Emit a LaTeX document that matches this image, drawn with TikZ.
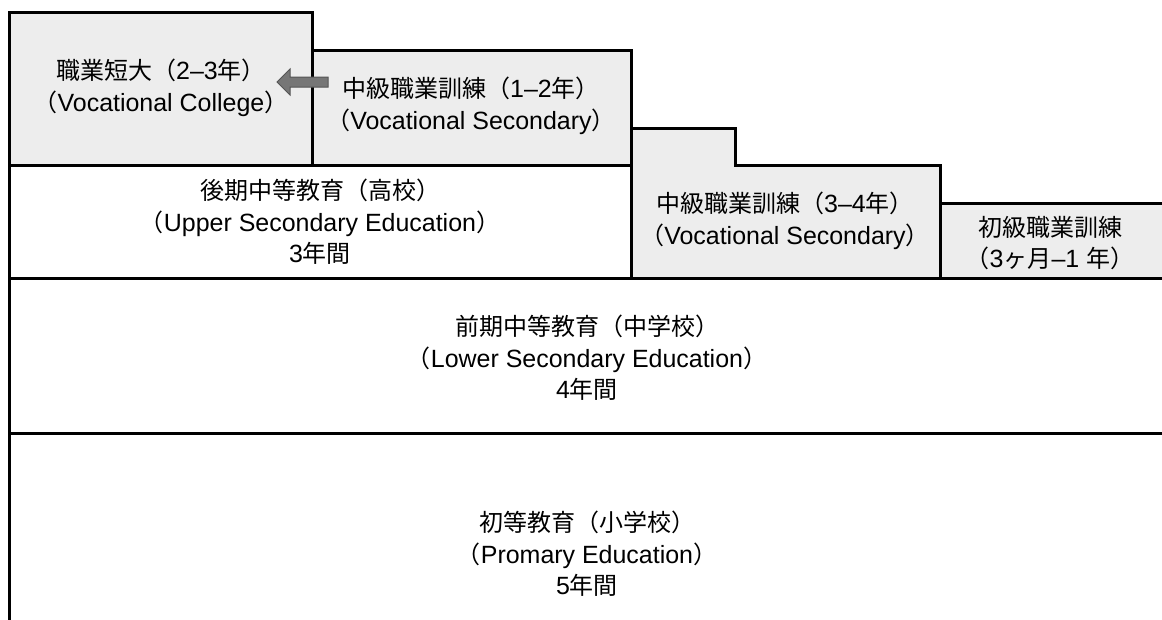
\documentclass[tikz,border=0pt]{standalone}
\usepackage{fontspec}
\setmainfont{Noto Sans CJK JP}
\newfontfamily\latfont[Scale=1.04]{Liberation Sans}
\newcommand\Lat[1]{{\latfont #1}}
\definecolor{boxgray}{RGB}{237,237,237}
\definecolor{arrowfill}{RGB}{118,118,118}
\definecolor{arrowline}{RGB}{85,85,85}
\tikzset{
  edge/.style={line width=3pt, line cap=rect},
  lbl/.style={align=center, font=\fontsize{24}{31.5}\selectfont, inner sep=0pt},
  blockarrow/.style={fill=arrowfill, draw=arrowline, line width=1pt, line join=miter},
}
\begin{document}
\begin{tikzpicture}[x=1pt, y=-1pt]
\useasboundingbox (0,0) rectangle (1162,619);
% fills
\fill[boxgray] (9,12) rectangle (312,165);
\fill[boxgray] (312,50) rectangle (631,165);
\fill[boxgray] (631,128) -- (735,128) -- (735,165) -- (940,165) -- (940,278) -- (631,278) -- cycle;
\fill[boxgray] (940,203) rectangle (1162,278);
% outlines
\draw[edge] (9,619) -- (9,12) -- (312,12) -- (312,165);
\draw[edge] (312,50) -- (631,50) -- (631,278);
\draw[edge] (631,128) -- (735,128) -- (735,165) -- (940,165) -- (940,278);
\draw[edge] (940,203) -- (1165,203);
\draw[edge] (9,165) -- (631,165);
\draw[edge] (9,278) -- (1165,278);
\draw[edge] (9,433) -- (1165,433);
% texts
\node[lbl] (vc) at (161,88) {職業短大（\Lat{2–3}年）\\（\Lat{Vocational College}）};
\node[lbl] (vs12) at (471,106) {中級職業訓練（\Lat{1–2}年）\\（\Lat{Vocational Secondary}）};
\node[lbl] (upper) at (320,222) {後期中等教育（高校）\\（\Lat{Upper Secondary Education}）\\\Lat{3}年間};
\node[lbl] (vs34) at (785,221) {中級職業訓練（\Lat{3–4}年）\\（\Lat{Vocational Secondary}）};
\node[lbl] (basic) at (1050,243) {初級職業訓練\\（\Lat{3}ヶ月\Lat{–1 }年）};
\node[lbl] (lower) at (587,358) {前期中等教育（中学校）\\（\Lat{Lower Secondary Education}）\\\Lat{4}年間};
\node[lbl] (primary) at (587,554) {初等教育（小学校）\\（\Lat{Promary Education}）\\\Lat{5}年間};
% arrow from vs12 box toward vc box
\coordinate (atail) at (328,82);
\coordinate (atip) at (277,82);
\draw[blockarrow] (atip) -- ++(13,-13) -- ++(0,8) -- (atail |- 0,77) -- (atail |- 0,87) -- (290,87) -- ++(0,8) -- cycle;
\end{tikzpicture}
\end{document}
